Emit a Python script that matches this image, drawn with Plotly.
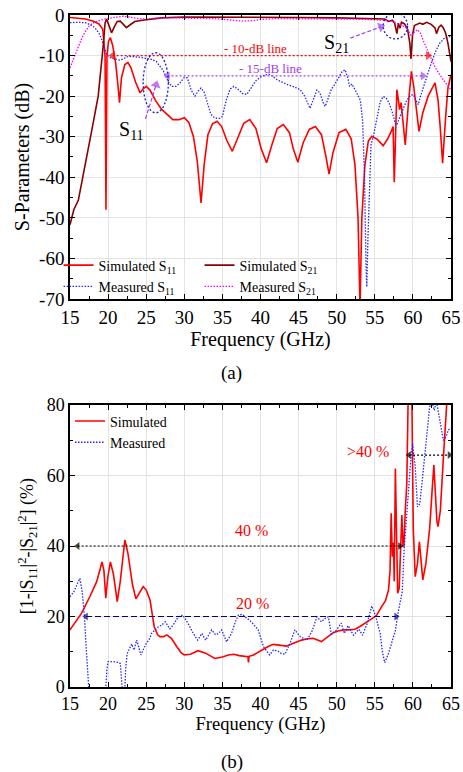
import plotly.graph_objects as go

FONT = "Liberation Serif, Times New Roman, Times, serif"

# ---------------- panel (a): S-parameters ----------------
sim_s11_f = [15, 16, 17, 18, 18.8, 19.3, 19.6, 19.72, 19.85, 20.05, 20.3, 20.6, 21.0, 21.3, 21.5, 21.75,
             22.2, 22.6, 23.0, 23.6, 24.2, 24.6, 25.0, 25.5, 26.2, 27.0, 27.8, 28.5, 29.3, 30.0, 30.6,
             31.2, 31.7, 32.2, 32.6, 33.1, 33.7, 34.3, 34.9, 35.6, 36.3, 37.0, 37.8, 38.6, 39.4, 40.1,
             40.8, 41.5, 42.2, 43.0, 43.8, 44.3, 44.9, 45.6, 46.4, 47.2, 48.0, 48.6, 49.0, 49.5, 50.3,
             51.2, 51.9, 52.4, 52.8, 53.06, 53.3, 53.7, 54.15, 54.6, 55.3, 56.1, 56.7, 57.2, 57.4, 57.55,
             57.75, 57.9, 58.1, 58.25, 58.45, 58.7, 59.0, 59.4, 59.8, 60.1, 60.5, 60.8, 61.3, 62.0, 62.9,
             63.3, 63.6, 63.9, 64.3, 64.6, 65.0]
sim_s11_db = [-0.6, -0.8, -1.0, -1.5, -2.2, -3.5, -10, -48, -10, -6.5, -5.6, -7.5, -12, -17.5, -21.6, -15.5,
              -12.2, -11.7, -13, -16.5, -19.2, -18.2, -17.6, -18.5, -21, -23.2, -24.5, -25.8, -25.8, -25.3, -26.5,
              -30, -36, -46.3, -37, -29.5, -26.8, -26.2, -27.5, -31, -33.6, -30.5, -26.7, -25.8, -28, -33,
              -36.4, -32, -28, -27, -29, -33, -36.3, -31.5, -28.2, -27.5, -29.5, -35, -39.2, -34, -29,
              -28.2, -30.5, -37, -50, -72, -50, -37, -31.1, -29.9, -30.6, -32.2, -30.5, -28.5, -27.5, -41.2,
              -25, -18.4, -21, -23.3, -21.6, -26, -32, -22, -13.9, -17.5, -24, -28.7, -24.1, -20, -16.7,
              -21, -28, -36.5, -25, -18, -14.7]

sim_s21_f = [15, 15.5, 16.1, 16.7, 17.3, 17.9, 18.7, 19.1, 19.4, 19.6, 19.8, 20.1, 20.45, 20.8, 21.2, 21.6,
             22.0, 22.4, 22.9, 23.5, 24.5, 25.5, 27, 30, 35, 40, 45, 50, 55, 56.3, 56.8, 57.3, 57.6, 57.9,
             58.1, 58.3, 58.5, 58.9, 59.3, 59.6, 59.75, 59.95, 60.2, 60.9, 61.3, 61.8, 62.4, 62.9, 63.1,
             63.4, 63.7, 64.0, 64.3, 64.6, 65.0]
sim_s21_db = [-51.7, -48, -45.6, -40, -34, -28, -20, -13, -6.8, -2, -1.0, -2.5, -4.4, -3, -1.6, -1.5,
              -2.3, -3.1, -2.4, -1.6, -1.3, -1.0, -0.7, -0.5, -0.5, -0.5, -0.6, -0.7, -0.8, -1.0, -1.6, -1.3,
              -2.0, -4.6, -2.0, -3.3, -1.8, -2.2, -3.5, -7, -10.8, -5, -2.6, -2.0, -2.3, -1.8, -2.3, -3.2,
              -4.6, -3.0, -2.5, -3.2, -4.5, -7, -11.5]

meas_s11_f = [15, 16, 17, 17.8, 18.3, 18.8, 19.2, 19.5, 19.8, 20.3, 20.8, 21.4, 21.9, 22.5, 23.1, 23.8,
              24.4, 24.9, 25.6, 26.3, 26.8, 27.2, 27.6, 28.0, 28.4, 28.9, 29.4, 30.0, 30.4, 30.9, 31.4,
              31.8, 32.2, 32.6, 33.0, 33.5, 34.0, 34.6, 35.0, 35.5, 36.0, 36.5, 37.0, 37.6, 38.2, 38.8,
              39.4, 40.0, 40.6, 41.1, 41.6, 42.2, 42.8, 43.6, 44.4, 45.2, 45.8, 46.5, 46.9, 47.4, 47.8,
              48.2, 48.5, 48.9, 49.3, 49.7, 50.2, 50.7, 51.1, 51.45, 51.7, 52.0, 52.4, 52.8, 53.1, 53.4,
              53.65, 53.85, 53.95, 54.1, 54.3, 54.5, 54.8, 55.3, 55.7, 56.1, 56.5, 56.9, 57.3, 57.7, 57.9,
              58.3, 58.7, 59.2, 59.7, 60.05, 60.4, 60.7, 61.0, 61.4, 61.8, 62.3, 62.9, 63.5, 64.2, 65.0]
meas_s11_db = [-1.9, -1.8, -1.9, -2.5, -3.2, -4.5, -6.2, -7.8, -9.8, -10.5, -10.8, -11.1, -10.9, -10.3, -10.2, -10.3,
               -10.5, -10.7, -10.9, -11.4, -12.5, -13.6, -15.2, -16.8, -17.6, -17.6, -16.8, -15.4, -15.5, -18.5, -20,
               -18.8, -18.0, -19, -21.5, -24.5, -25.4, -25.5, -25, -21, -18.3, -17.6, -18.2, -19.3, -19.6, -18,
               -16.2, -15.3, -14.8, -14.6, -15.1, -16, -16.6, -17.2, -17.7, -18.4, -20, -23, -21, -18.5, -19.2,
               -21.5, -22.5, -20.5, -18.3, -17.2, -15.5, -14, -13.5, -15.5, -17.6, -17, -18.4, -20, -21, -26,
               -40, -62, -67, -55, -40, -32, -30, -25, -21.5, -20.1, -20.5, -21.8, -24, -26.8, -27.1,
               -25, -23.3, -21, -19.8, -19.6, -21, -22.1, -20, -17.5, -15.1, -12.5, -9.3, -7, -5.6, -5.3]

meas_s21_f = [15, 15.5, 16.1, 16.6, 17.1, 17.6, 18.2, 18.8, 19.5, 20.5, 21.5, 22, 23, 24, 25, 26, 28, 30,
              32, 34, 36, 37.5, 39, 40, 42, 45, 48, 50, 52, 54, 56, 57, 57.9, 58.6, 59.2, 59.8, 60.2,
              60.6, 61.0, 61.4, 61.8, 62.2, 62.7, 63.1, 63.6, 64.0, 64.5, 65.0]
meas_s21_db = [-13, -10.5, -7.7, -5.5, -3.8, -2.5, -1.8, -1.4, -1.0, -0.7, -0.5, -0.3, -0.6, -0.9, -1.0, -0.8,
               -0.7, -0.8, -0.8, -0.9, -1.2, -1.5, -1.4, -1.1, -0.9, -0.9, -0.9, -1.0, -1.0, -1.1, -1.2, -1.4,
               -2.0, -2.6, -3.2, -5.2, -4.2, -3.6, -4.5, -6.5, -8.2, -10.2, -12, -13.5, -15, -16, -17.3, -18.4]

# ---------------- panel (b): loss ----------------
loss_sim_f = [15, 15.6, 16.5, 17.6, 18.5, 18.9, 19.2, 19.45, 19.7, 19.95, 20.3, 20.7, 21.2, 21.6, 22.2, 22.6,
              23.2, 23.65, 24.1, 24.6, 25.0, 25.5, 26.05, 26.5, 26.8, 27.3, 27.7, 28.3, 29.0, 29.6, 30.0,
              30.8, 31.8, 32.8, 34.0, 35.0, 35.8, 36.5, 37.2, 38.0, 38.35, 38.42, 38.5, 39.0, 39.7, 40.4,
              41.0, 41.7, 42.5, 43.4, 44.4, 45.4, 46.2, 46.9, 48.0, 48.8, 49.55, 50.2, 50.9, 51.6, 52.4,
              53.0, 53.7, 54.6, 55.2, 55.9, 56.4, 56.8, 57.0, 57.15, 57.3, 57.45, 57.55, 57.7, 57.85, 58.0,
              58.2, 58.4, 58.55, 58.7, 58.8, 59.0, 59.2, 59.4, 59.6, 59.85, 60.05, 60.3, 60.6, 60.85, 61.05,
              61.3, 61.7, 62.2, 62.5, 62.75, 62.95, 63.15, 63.3, 63.6, 64.0, 64.4, 64.7, 65.0]
loss_sim = [16.2, 18.1, 20.9, 25.6, 29.9, 33, 35.5, 33, 25.2, 31, 35.5, 32, 24.2, 30, 41.7, 38,
            29, 25, 26.5, 28.5, 27.5, 24.7, 17.1, 14.8, 14.3, 14.3, 14.8, 13.8, 11.5, 9.7, 9.1,
            9.3, 10.3, 9.6, 8.1, 8.5, 9.1, 9.3, 8.9, 8.7, 8.6, 7.0, 8.7, 9.0, 9.9, 10.8,
            11.5, 12.1, 11.9, 11.6, 12.5, 13.3, 13.7, 13.8, 12.9, 14.2, 15.4, 15.9, 16.2, 16.2, 16.4,
            17.1, 18.1, 19.5, 20.2, 22.8, 24.5, 27.5, 33, 49.3, 37, 41, 30, 62, 40, 26.6,
            28, 38, 48.8, 40, 39.8, 50, 57.8, 85, 95, 85, 45, 31.3, 35, 41.2, 36,
            30.4, 35, 45, 55, 63, 55, 47, 45.5, 50, 65, 80, 95, 100]

loss_meas_f = [15, 15.5, 16.0, 16.3, 16.6, 16.9, 17.1, 17.4, 17.6, 19.4, 19.7, 19.85, 20.0, 20.6, 21.3, 21.6,
               21.8, 21.95, 22.15, 22.3, 22.5, 22.8, 23.1, 23.4, 23.75, 24.0, 24.3, 24.7, 25.0, 25.4, 25.7,
               26.2, 26.6, 27.0, 27.5, 28.1, 28.6, 29.2, 29.8, 30.5, 31.1, 31.75, 32.3, 32.8, 33.6, 34.1,
               34.5, 34.9, 35.55, 36.2, 36.7, 37.1, 37.6, 38.0, 38.8, 39.7, 40.4, 41.2, 41.7, 42.3, 42.7,
               43.2, 43.9, 44.5, 45.2, 46.1, 46.8, 47.4, 48.0, 48.5, 48.9, 49.3, 49.9, 50.6, 51.0, 51.5,
               52.2, 52.9, 53.4, 54.0, 54.6, 55.1, 55.7, 56.0, 56.3, 56.8, 57.2, 57.7, 58.1, 58.6, 58.85,
               59.2, 59.65, 59.95, 60.3, 60.6, 60.9, 61.2, 61.5, 61.8, 62.2, 62.5, 62.8, 63.1, 63.4, 63.7,
               64.0, 64.35, 64.65, 65.0]
loss_meas = [25.6, 27, 29.5, 30.8, 27, 20, 12, 0, -5, -5, 0, 5, 7.2, 7.2, 7.0, 6.7,
             2, -3, -3, 5, 9.5, 11, 12.2, 10.5, 13.3, 11.5, 9.1, 11, 12.3, 13.5, 15.2,
             16.3, 17.1, 17.5, 18.5, 16.5, 17.8, 19.9, 20.4, 18, 15.5, 13.3, 15.2, 13.3, 16.2, 14.8,
             15.2, 16.2, 12.8, 15.2, 18.5, 20.4, 20.6, 19.9, 18.5, 16.2, 11.4, 9.1, 10.5, 10.2, 9.5,
             9.3, 12.5, 16.2, 14.3, 13.3, 16, 19.9, 18.5, 19.5, 19.9, 15, 16, 18.1, 15.2, 17.4,
             14.7, 16.4, 14.7, 18, 23, 20.2, 15.2, 10, 6.9, 9.5, 12.3, 16, 21.6, 27, 38.9,
             50.2, 62.5, 69.1, 62.5, 51.1, 52, 58, 65, 72, 79.5, 81, 78.5, 81, 77, 73,
             70, 71, 72.9, 73.5]

freq_ticks = [15, 20, 25, 30, 35, 40, 45, 50, 55, 60, 65]
db_ticks = [0, -10, -20, -30, -40, -50, -60, -70]
db_ticktext = ["0", "-10", "-20", "-30", "-40", "-50", "-60", "-70"]
pct_ticks = [0, 20, 40, 60, 80]

RED = "#FF0000"
DARKRED = "#8B0000"
BLUE = "#2626FF"
MAGENTA = "#FF00FF"
PURPLE = "#A040F0"
NAVY = "#000080"
DOT = "1.5px,1.5px"

fig = go.Figure()


def curve(x, y, name, color, dash, xa, ya, leg, width):
    fig.add_trace(go.Scatter(x=x, y=y, mode="lines", name=name, legendgroup=name,
                             line=dict(color=color, width=width, dash=dash),
                             xaxis=xa, yaxis=ya, legend=leg))


curve(sim_s11_f, sim_s11_db, "Simulated S<sub>11</sub>", RED, "solid", "x", "y", "legend", 1.6)
curve(meas_s11_f, meas_s11_db, "Measured S<sub>11</sub>", BLUE, DOT, "x", "y", "legend", 1.3)
curve(sim_s21_f, sim_s21_db, "Simulated S<sub>21</sub>", DARKRED, "solid", "x", "y", "legend2", 1.6)
curve(meas_s21_f, meas_s21_db, "Measured S<sub>21</sub>", MAGENTA, DOT, "x", "y", "legend2", 1.3)
curve(loss_sim_f, loss_sim, "Simulated", RED, "solid", "x2", "y2", "legend3", 1.6)
curve(loss_meas_f, loss_meas, "Measured", BLUE, DOT, "x2", "y2", "legend3", 1.3)


def arrow(xs, ys, symbols, sizes, angles, color, dash, xa, ya, width=1.2):
    fig.add_trace(go.Scatter(x=xs, y=ys, mode="lines+markers", showlegend=False, hoverinfo="skip",
                             cliponaxis=False, line=dict(color=color, width=width, dash=dash),
                             marker=dict(symbol=symbols, size=sizes, angle=angles, color=color,
                                         line=dict(width=0)),
                             xaxis=xa, yaxis=ya))


# -10 dB and -15 dB lines
arrow([20.6, 62.0], [-10, -10], ["triangle-left", "triangle-right"], [8, 8], [0, 0], RED, "2px,2px", "x", "y")
arrow([27.8, 61.3], [-15, -15], ["triangle-left", "triangle-right"], [8, 8], [0, 0], PURPLE, "2px,2px", "x", "y")
# pointer arrows to S11 / S21 regions
arrow([24.9, 26.3], [-25.6, -17.2], ["circle", "triangle-up"], [0, 9], [0, 17], PURPLE, "4px,2px", "x", "y")
arrow([51.8, 55.8], [-5.7, -2.9], ["circle", "triangle-up"], [0, 9], [0, 70], PURPLE, "4px,2px", "x", "y")
# panel (b) arrows
arrow([16.0, 58.3], [40, 40], ["triangle-left", "triangle-right"], [7, 7], [0, 0], "black", "2px,2px", "x2", "y2", 1.1)
arrow([17.1, 57.8], [20, 20], ["triangle-left", "triangle-right"], [7, 7], [0, 0], NAVY, "6px,3px", "x2", "y2", 1.2)
arrow([59.5, 64.8], [65.8, 65.8], ["triangle-left", "triangle-right"], [7, 7], [0, 0], "black", "2px,2px", "x2", "y2", 1.1)

axis_common = dict(showline=True, linecolor="black", linewidth=1.5, mirror="ticks", ticks="inside",
                   ticklen=5, tickwidth=1.2, tickcolor="black", showgrid=True, gridcolor="#E3E3E3",
                   gridwidth=1, zeroline=False, automargin=False)

fig.update_layout(
    width=463, height=772, paper_bgcolor="white", plot_bgcolor="white",
    margin=dict(l=70, r=12, t=15, b=85, autoexpand=False),
    font=dict(family=FONT, color="black"),
    xaxis=dict(domain=[0, 1], anchor="y", range=[15, 65], tickmode="array", tickvals=freq_ticks,
               tickfont=dict(size=19), title=dict(text="Frequency (GHz)", font=dict(size=20), standoff=2),
               minor=dict(ticks="inside", ticklen=3, dtick=2.5, tick0=15, tickcolor="black", showgrid=False),
               **axis_common),
    yaxis=dict(domain=[0.5774, 1], anchor="x", range=[-70, 0], tickmode="array", tickvals=db_ticks,
               ticktext=db_ticktext, tickfont=dict(size=19),
               title=dict(text="S-Parameters (dB)", font=dict(size=20), standoff=4),
               minor=dict(ticks="inside", ticklen=3, dtick=5, tick0=0, tickcolor="black", showgrid=False),
               **axis_common),
    xaxis2=dict(domain=[0, 1], anchor="y2", range=[15, 65], tickmode="array", tickvals=freq_ticks,
                tickfont=dict(size=18), title=dict(text="Frequency (GHz)", font=dict(size=18.5), standoff=2),
                minor=dict(ticks="inside", ticklen=3, dtick=2.5, tick0=15, tickcolor="black", showgrid=False),
                **axis_common),
    yaxis2=dict(domain=[0, 0.4196], anchor="x2", range=[0, 80], tickmode="array", tickvals=pct_ticks,
                tickfont=dict(size=18),
                title=dict(text="[1-|S<sub>11</sub>|<sup>2</sup>-|S<sub>21</sub>|<sup>2</sup>] (%)",
                           font=dict(size=18), standoff=8),
                minor=dict(ticks="inside", ticklen=3, dtick=10, tick0=0, tickcolor="black", showgrid=False),
                **axis_common),
    legend=dict(x=-0.03, y=0.651, xanchor="left", yanchor="top", bgcolor="rgba(0,0,0,0)",
                font=dict(size=14), tracegroupgap=0),
    legend2=dict(x=0.34, y=0.651, xanchor="left", yanchor="top", bgcolor="rgba(0,0,0,0)",
                 font=dict(size=14), tracegroupgap=0),
    legend3=dict(x=0.0, y=0.419, xanchor="left", yanchor="top", bgcolor="rgba(0,0,0,0)",
                 font=dict(size=14), tracegroupgap=0),
)

shapes = []
annos = []

annos.append(dict(x=39.4, y=-8.2, xref="x", yref="y", text="- 10-dB line", showarrow=False,
                  font=dict(size=13, color=RED)))
annos.append(dict(x=41.3, y=-13.2, xref="x", yref="y", text="- 15-dB line", showarrow=False,
                  font=dict(size=13, color=PURPLE)))
# ellipses
shapes.append(dict(type="circle", xref="x", yref="y", x0=24.6, x1=27.9, y0=-24.1, y1=-9.3,
                   line=dict(color="#1A1AC8", width=1.3, dash="2px,2px")))
shapes.append(dict(type="circle", xref="x", yref="y", x0=56.1, x1=59.3, y0=-5.9, y1=0.5,
                   line=dict(color="#1A1AC8", width=1.3, dash="2px,2px")))
annos.append(dict(x=23.1, y=-28.4, xref="x", yref="y", text="S<sub>11</sub>", showarrow=False,
                  font=dict(size=20)))
annos.append(dict(x=50.0, y=-7.0, xref="x", yref="y", text="S<sub>21</sub>", showarrow=False,
                  font=dict(size=20)))

annos.append(dict(x=38.85, y=44.3, xref="x2", yref="y2", text="40 %", showarrow=False,
                  font=dict(size=16, color=RED)))
annos.append(dict(x=38.9, y=23.8, xref="x2", yref="y2", text="20 %", showarrow=False,
                  font=dict(size=16, color=RED)))
annos.append(dict(x=54.1, y=66.8, xref="x2", yref="y2", text="&gt;40 %", showarrow=False,
                  font=dict(size=16, color=RED)))

# panel captions
annos.append(dict(x=0.425, y=0.467, xref="paper", yref="paper", text="(a)", showarrow=False,
                  xanchor="center", yanchor="middle", font=dict(size=19)))
annos.append(dict(x=0.425, y=-0.1116, xref="paper", yref="paper", text="(b)", showarrow=False,
                  xanchor="center", yanchor="middle", font=dict(size=19)))

fig.update_layout(shapes=shapes, annotations=annos)
fig.write_html("out.html", config={"displayModeBar": False},
               post_script="document.body.style.margin='0px';")
